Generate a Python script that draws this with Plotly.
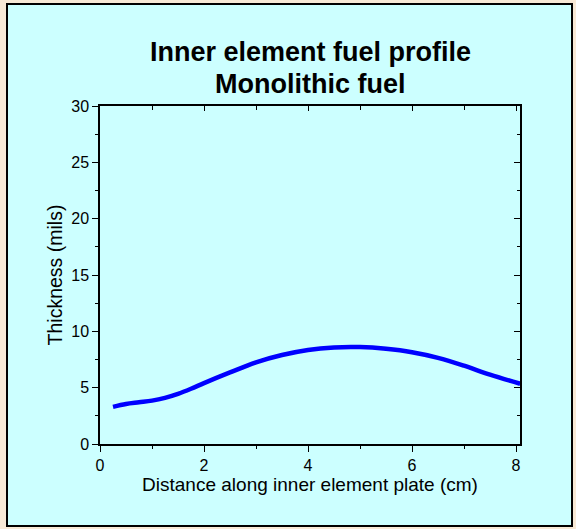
import plotly.graph_objects as go

# Data
distance_cm = [0.25, 0.5, 0.75, 1.0, 1.25, 1.5, 1.75, 2.0, 2.5, 3.0, 3.5, 4.0,
               4.5, 5.0, 5.5, 6.0, 6.5, 7.0, 7.5, 8.08]
thickness_mils = [3.3, 3.55, 3.7, 3.85, 4.1, 4.45, 4.9, 5.4, 6.35, 7.25, 7.9, 8.35,
                  8.57, 8.6, 8.45, 8.15, 7.65, 6.95, 6.15, 5.35]

x_ticks = [0, 2, 4, 6, 8]
y_ticks = [0, 5, 10, 15, 20, 25, 30]
title_lines = ["Inner element fuel profile", "Monolithic fuel"]

FONT = "Arial, 'Liberation Sans', sans-serif"
CYAN = "#CCFFFF"
BEIGE = "#F7E9D6"

W, H = 576, 529
L, R, T, B = 100, 56, 106, 85
pw, ph = W - L - R, H - T - B

def px_to_paper_x(px):
    return (px - L) / pw

def py_to_paper_y(py):
    return (H - B - py) / ph

fig = go.Figure()
fig.add_trace(go.Scatter(
    x=distance_cm, y=thickness_mils, mode="lines",
    line=dict(color="#0000FF", width=4.5, shape="spline"),
    showlegend=False, hoverinfo="skip"))

annotations = []
for line_text, cy in zip(title_lines, [52, 84]):
    annotations.append(dict(text="<b>" + line_text + "</b>",
                            xref="paper", yref="paper", x=0.5, y=py_to_paper_y(cy),
                            xanchor="center", yanchor="middle", showarrow=False,
                            font=dict(size=27, family=FONT, color="black")))

xmax = 8.077
fig.update_layout(
    width=W, height=H,
    margin=dict(l=L, r=R, t=T, b=B),
    paper_bgcolor=BEIGE,
    plot_bgcolor="rgba(0,0,0,0)",
    font=dict(family=FONT, color="black"),
    shapes=[dict(type="rect", xref="paper", yref="paper", layer="below",
                 x0=px_to_paper_x(7), x1=px_to_paper_x(572),
                 y0=py_to_paper_y(526), y1=py_to_paper_y(4),
                 fillcolor=CYAN, line=dict(color="black", width=2))],
    annotations=annotations,
    xaxis=dict(range=[0, xmax], tickvals=x_ticks, ticks="outside", ticklen=6,
               tickwidth=1.3, tickcolor="black", showline=True, linecolor="black",
               linewidth=1.5, showgrid=False, zeroline=False,
               tickfont=dict(size=16),
               minor=dict(dtick=1, tick0=0, ticks="outside", ticklen=3,
                          tickcolor="black", tickwidth=1.3, showgrid=False),
               title=dict(text="Distance along inner element plate (cm)",
                          font=dict(size=19), standoff=5)),
    yaxis=dict(range=[0, 30], tickvals=y_ticks, ticks="outside", ticklen=6,
               tickwidth=1.3, tickcolor="black", showline=True, linecolor="black",
               linewidth=1.5, showgrid=False, zeroline=False,
               tickfont=dict(size=16),
               minor=dict(dtick=2.5, tick0=0, ticks="outside", ticklen=3,
                          tickcolor="black", tickwidth=1.3, showgrid=False),
               title=dict(text="Thickness (mils)", font=dict(size=19.5), standoff=3)),
    xaxis2=dict(range=[0, xmax], overlaying="x", side="top", tickvals=x_ticks,
                ticks="inside", ticklen=5, tickwidth=1.3, tickcolor="black",
                showticklabels=False, showline=True, linecolor="black",
                linewidth=1.5, showgrid=False, zeroline=False,
                minor=dict(dtick=1, tick0=0, ticks="inside", ticklen=4,
                           tickcolor="black", tickwidth=1.3, showgrid=False)),
    yaxis2=dict(range=[0, 30], overlaying="y", side="right", tickvals=y_ticks,
                ticks="inside", ticklen=6, tickwidth=1.3, tickcolor="black",
                showticklabels=False, showline=True, linecolor="black",
                linewidth=1.5, showgrid=False, zeroline=False,
                minor=dict(dtick=2.5, tick0=0, ticks="inside", ticklen=3,
                           tickcolor="black", tickwidth=1.3, showgrid=False)),
)
fig.add_trace(go.Scatter(x=[None], y=[None], xaxis="x2", yaxis="y2",
                         showlegend=False, hoverinfo="skip"))

fig.write_html("out.html")
